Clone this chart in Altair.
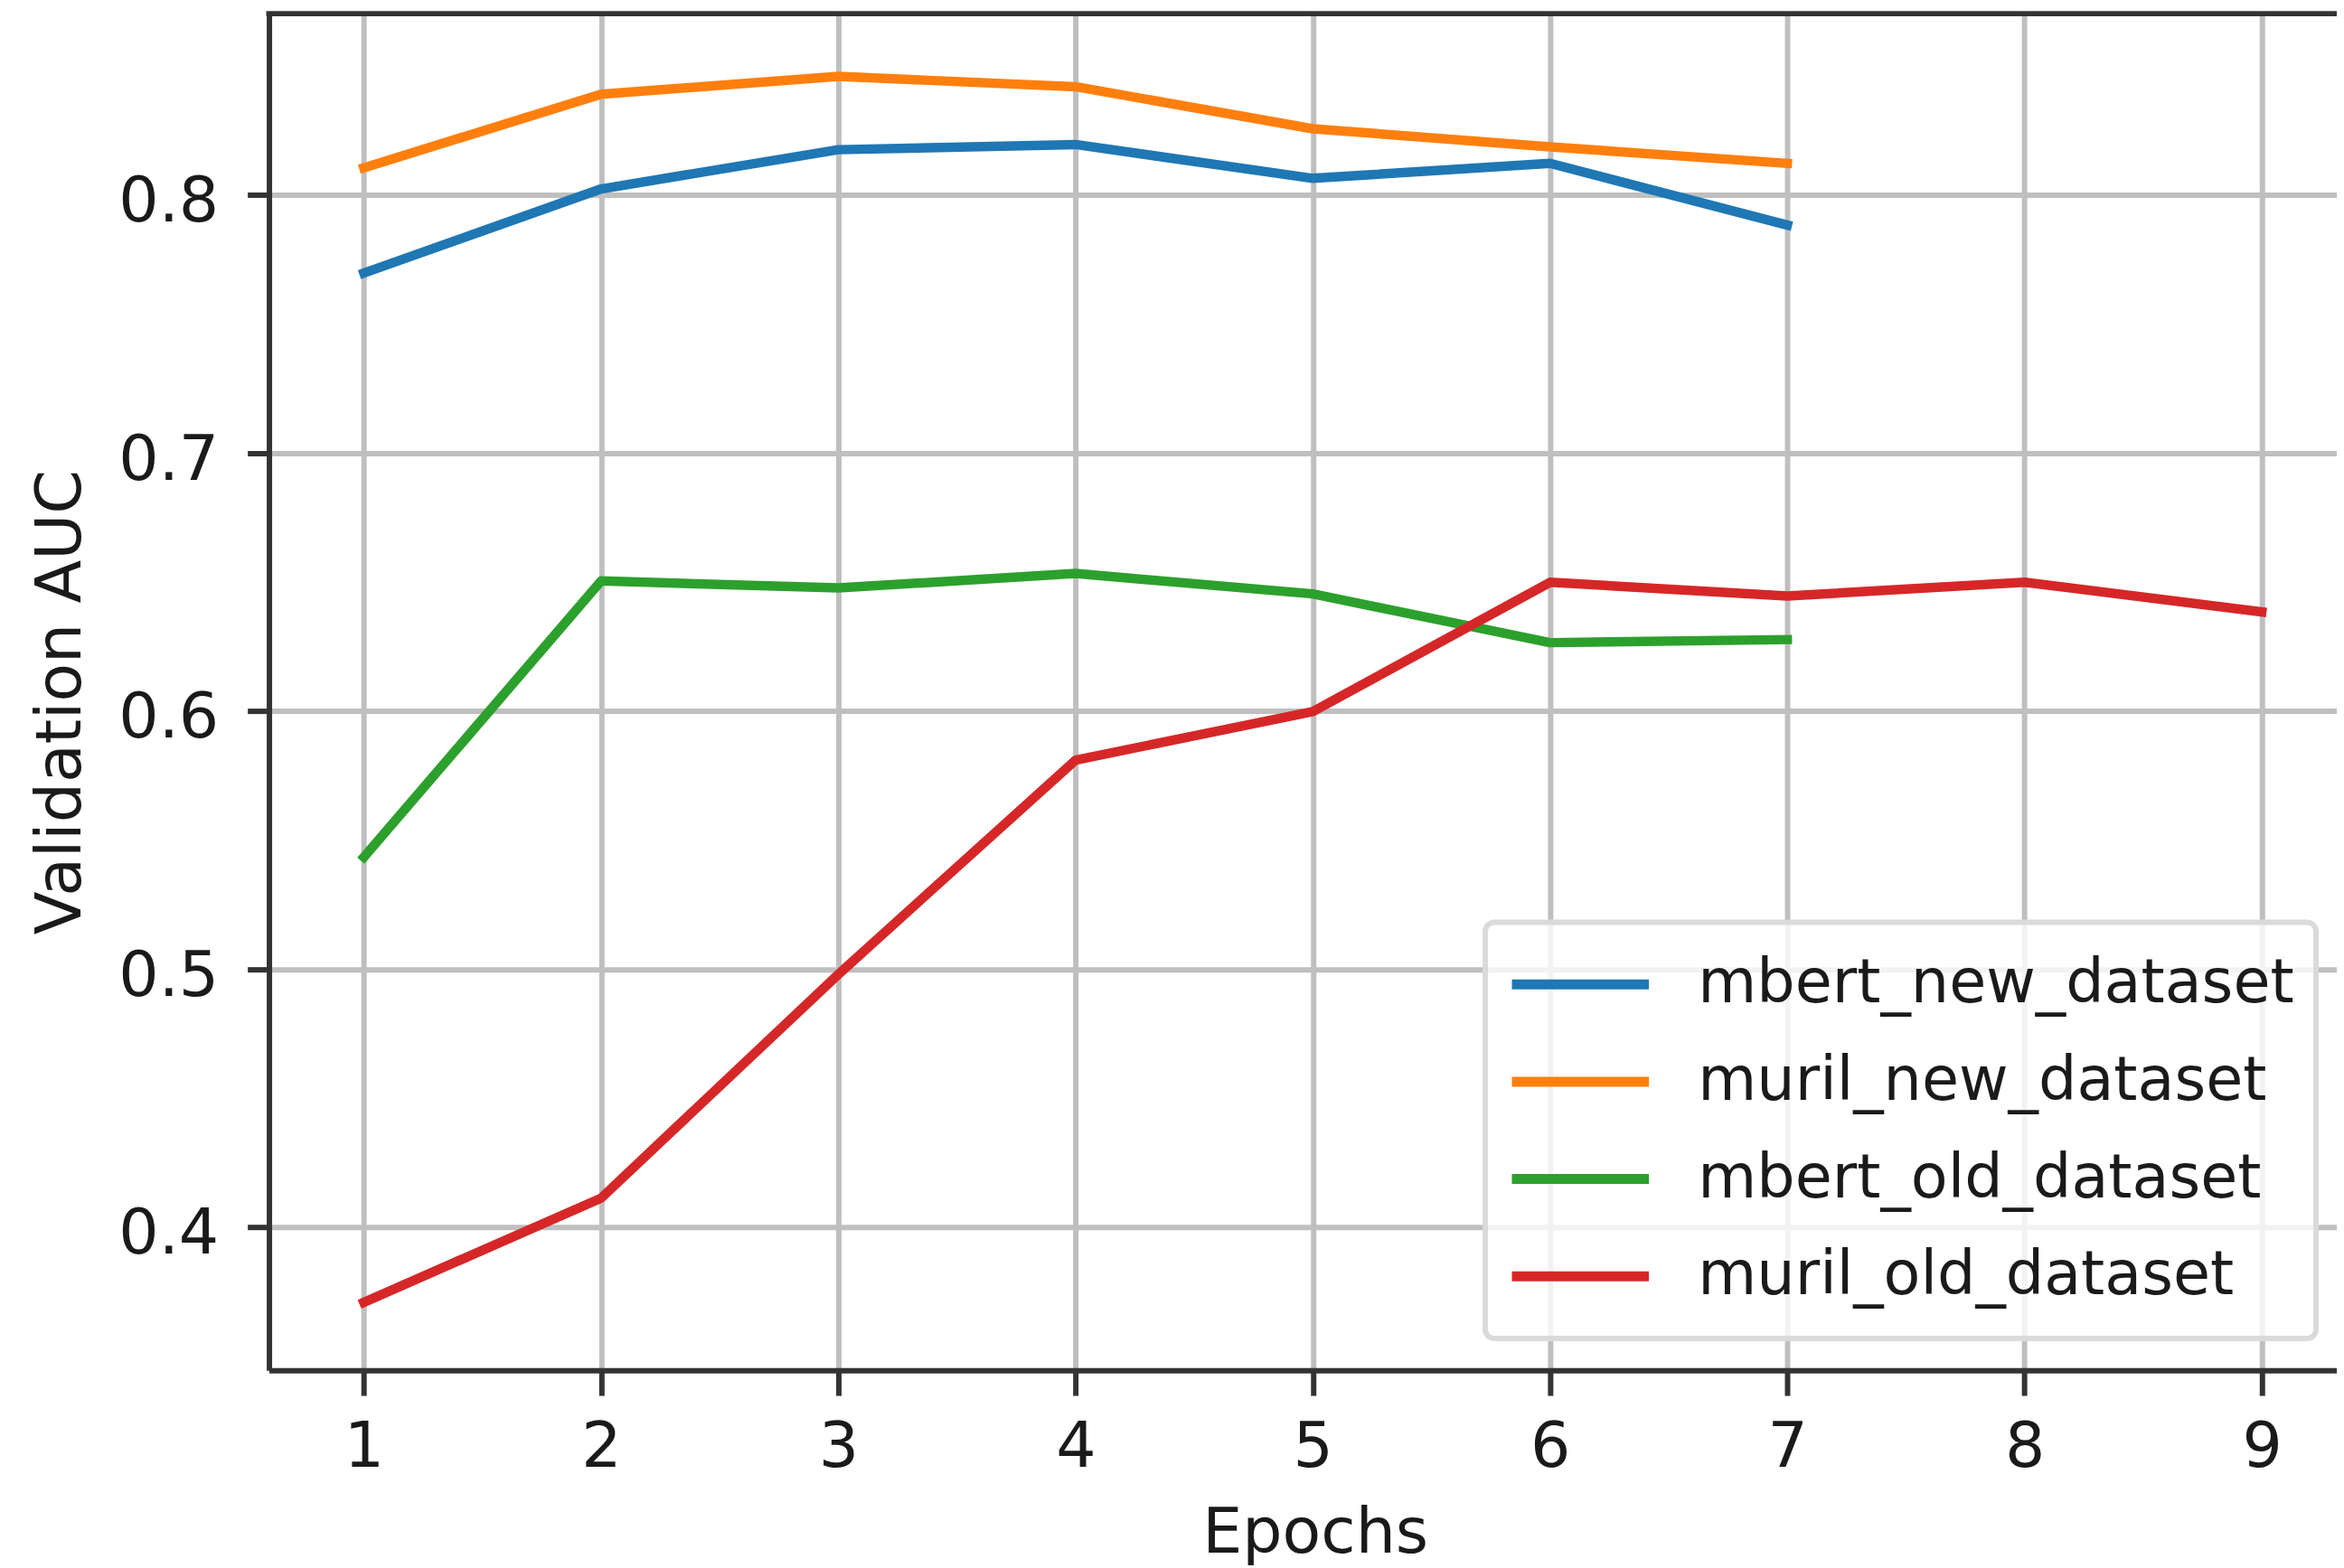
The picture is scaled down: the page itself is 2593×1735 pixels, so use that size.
import altair as alt
import pandas as pd

epochs = [1, 2, 3, 4, 5, 6, 7, 8, 9]
series_names = ["mbert_new_dataset", "muril_new_dataset", "mbert_old_dataset", "muril_old_dataset"]
series_colors = ["#1f77b4", "#ff7f0e", "#2ca02c", "#d62728"]

mbert_new = [0.7697, 0.8023, 0.8175, 0.8195, 0.8064, 0.8122, 0.7883]
muril_new = [0.8105, 0.8390, 0.8459, 0.8419, 0.8256, 0.8186, 0.8122]
mbert_old = [0.5434, 0.6504, 0.6477, 0.6533, 0.6454, 0.6265, 0.6277]
muril_old = [0.3709, 0.4113, 0.4980, 0.5810, 0.5998, 0.6499, 0.6446, 0.6499, 0.6384]

x_ticks = [1, 2, 3, 4, 5, 6, 7, 8, 9]
y_ticks = [0.4, 0.5, 0.6, 0.7, 0.8]

rows = []
for name, vals in zip(series_names, [mbert_new, muril_new, mbert_old, muril_old]):
    for e, v in zip(epochs, vals):
        rows.append({"Epochs": e, "AUC": v, "series": name})
df = pd.DataFrame(rows)

FONT = "DejaVu Sans"
W = 2295
H = 1506

x_enc = alt.X(
    "Epochs:Q",
    scale=alt.Scale(domain=[0.6, 9.316], nice=False, zero=False),
    axis=alt.Axis(
        values=x_ticks, format="d", title="Epochs",
        titleX=1161, titleY=202, titleBaseline="alphabetic", titleAlign="center",
        tickSize=28, labelPadding=79, labelBaseline="alphabetic",
        labelOverlap=False, labelFlush=False,
    ),
)
y_enc = alt.Y(
    "AUC:Q",
    scale=alt.Scale(domain=[0.3446, 0.8702], nice=False, zero=False),
    axis=alt.Axis(
        values=y_ticks, format=".1f", title="Validation AUC",
        titleAngle=270, titleX=-209.5, titleY=764, titleBaseline="alphabetic", titleAlign="center",
        tickSize=24, labelPadding=32, labelOffset=8, labelOverlap=False, labelFlush=False,
    ),
)

lines = alt.Chart(df).mark_line(strokeWidth=10.5, strokeCap="square", strokeJoin="round").encode(
    x=x_enc,
    y=y_enc,
    color=alt.Color(
        "series:N",
        scale=alt.Scale(domain=series_names, range=series_colors),
        sort=series_names,
        legend=alt.Legend(
            title=None, orient="none", legendX=1350, legendY=1008.7,
            symbolType="stroke", symbolSize=23104, symbolStrokeWidth=11,
            labelFontSize=67, labelFont=FONT, labelColor="#1a1a1a", labelLimit=2000,
            labelOffset=49, padding=24, rowPadding=18, clipHeight=90,
            strokeColor="#dadada", fillColor="rgba(255,255,255,0.8)", cornerRadius=10,
        ),
    ),
)

top_spine = alt.Chart(pd.DataFrame({"k": [0]})).mark_rule(color="#333333", strokeWidth=6).encode(
    y=alt.value(0), x=alt.value(-3), x2=alt.value(W)
)

chart = alt.layer(lines, top_spine).properties(
    width=W, height=H,
    autosize=alt.AutoSizeParams(type="none"),
    padding={"left": 290.5, "top": 4.3, "right": 0, "bottom": 222},
    background="white",
).configure(font=FONT).configure_view(stroke=None, fill="white").configure_axis(
    labelFont=FONT, titleFont=FONT, labelFontSize=70, titleFontSize=70,
    labelColor="#1a1a1a", titleColor="#1a1a1a", titleFontWeight="normal",
    domainColor="#333333", domainWidth=6, tickColor="#333333", tickWidth=6,
    gridColor="#bfbfbf", gridWidth=6, grid=True,
).configure_legend(strokeWidth=6)

chart.save("out.html", embed_options={"renderer": "svg", "actions": False})
